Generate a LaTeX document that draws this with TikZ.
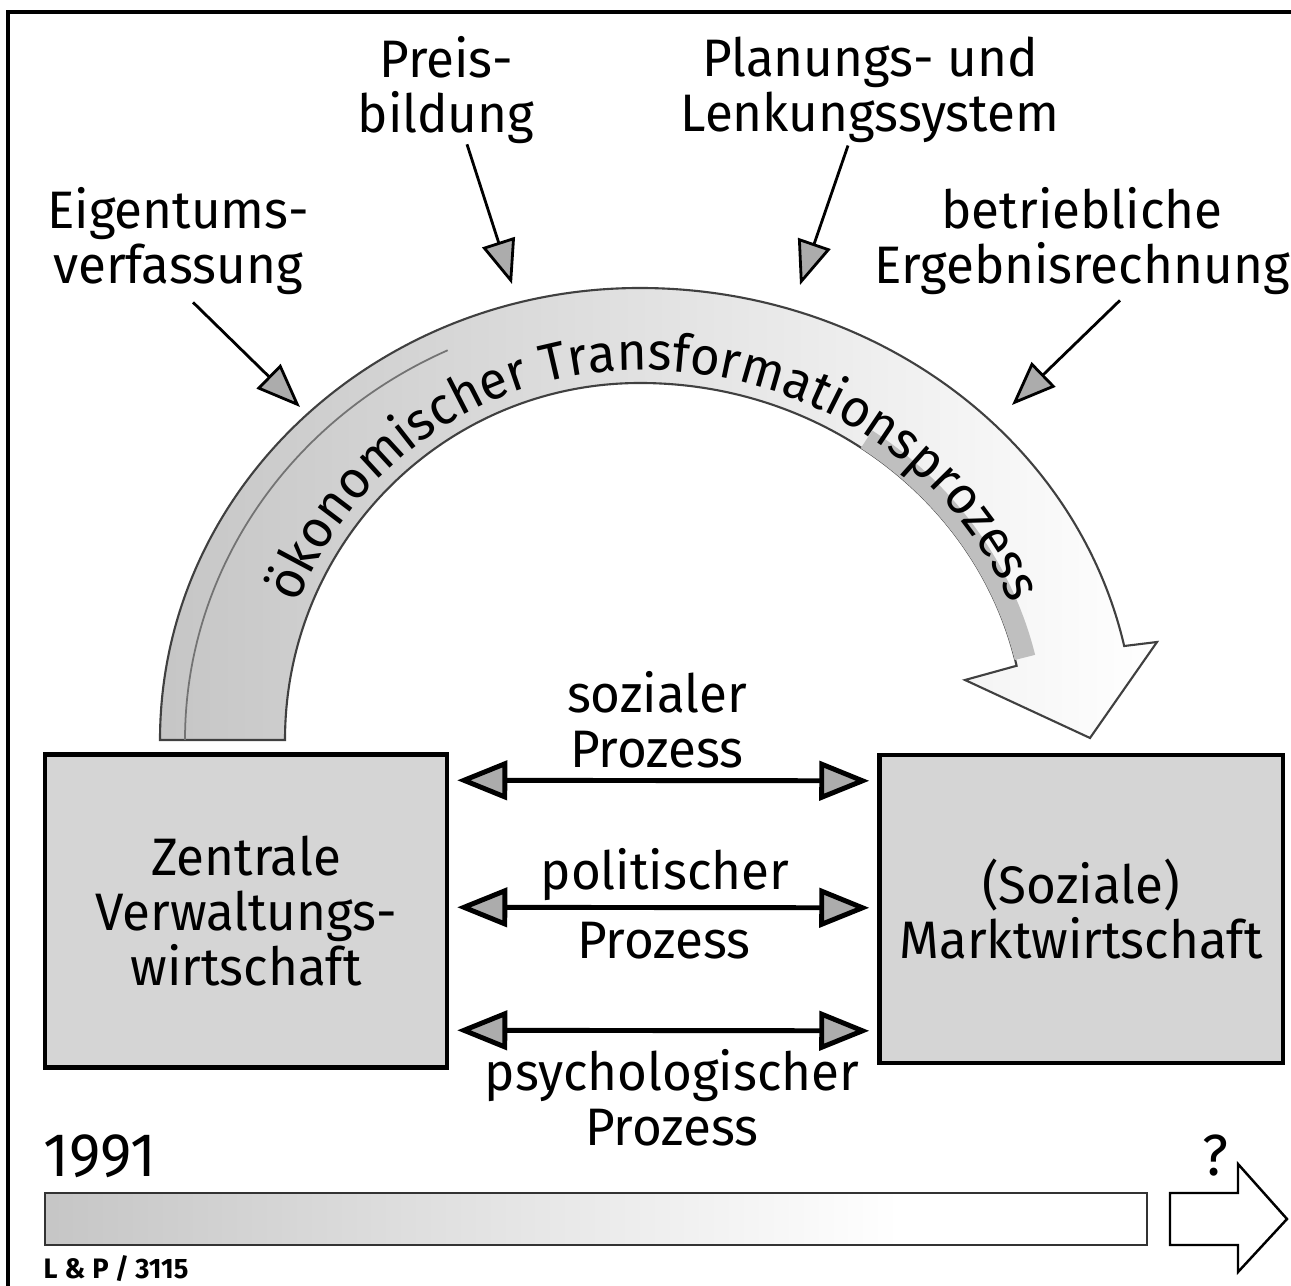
\documentclass[tikz,border=0pt]{standalone}
\usepackage{fontspec}
\setmainfont{Fira Sans}[FakeStretch=0.97]
\usetikzlibrary{positioning,calc,arrows.meta,decorations.text}
\newcommand{\lblfont}{\fontsize{15}{15.6}\selectfont}

\begin{document}
\begin{tikzpicture}[x=0.01cm, y=-0.01cm,
    every node/.style={font=\lblfont, inner sep=0pt},
    ecobox/.style={rectangle, draw=black, fill=gray!33, line width=1.2pt, align=center},
    textlabel/.style={align=center},
    twoway/.style={{Triangle[length=5mm,width=3.9mm,fill=gray!65]}-{Triangle[length=5mm,width=3.9mm,fill=gray!65]}, line width=1.4pt},
    inarrow/.style={-{Triangle[length=4.4mm,width=3.4mm,fill=gray!65]}, line width=0.8pt},
  ]
  \useasboundingbox (0,0) rectangle (1291,1286);

  %Frame
  \draw[line width=1pt] (1291,12) -- (8,12) -- (8,1286);

  %Big arrow
  \coordinate (c) at (640,740);
  \shadedraw[left color=gray!45, right color=white, draw=black!75, line width=0.6pt]
    ($(c)+(180:480 and 452)$) arc[start angle=180, end angle=270, x radius=480, y radius=452]
    arc[start angle=270, end angle=348, x radius=495, y radius=452]
    -- (1157,642) -- (1090,738) -- (965,680)
    -- ($(c)+(348:385 and 357)$) arc[start angle=348, end angle=270, x radius=385, y radius=357]
    arc[start angle=270, end angle=180, x radius=355, y radius=357] -- cycle;
  \draw[black!55, line width=0.5pt] ($(c)+(180:455 and 430)$) arc[start angle=180, end angle=245, x radius=455, y radius=430];
  \draw[gray!50, line width=6pt] ($(c)+(305:395 and 367)$) arc[start angle=305, end angle=347, x radius=395, y radius=367];
  \path[decorate, decoration={text along path, text align=center,
      text={|\lblfont|ökonomischer Transformationsprozess}}]
    ($(c)+(188:368 and 370)$) arc[start angle=188, end angle=270, x radius=368, y radius=370]
    arc[start angle=270, end angle=352, x radius=398, y radius=370];

  %Nodes
  \node[ecobox, minimum width=4.02cm, minimum height=3.13cm] (zvw) at (246,911) {Zentrale\\Verwaltungs-\\wirtschaft};
  \node[ecobox, minimum width=4.03cm, minimum height=3.08cm] (smw) at (1081,909) {(Soziale)\\Marktwirtschaft};

  \node[textlabel] (eig) at (178,241) {Eigentums-\\verfassung};
  \node[textlabel] (prb) at (446,90) {Preis-\\bildung};
  \node[textlabel] (pls) at (870,90) {Planungs- und\\Lenkungssystem};
  \node[textlabel] (ber) at (1082,241) {betriebliche\\Ergebnisrechnung};

  \node[textlabel] (soz) at (657,720) {sozialer\\Prozess};
  \node (pol) at (665,875) {politischer};
  \node (pro) at (664,941) {Prozess};
  \node[textlabel] (psy) at (672,1098) {psychologischer\\Prozess};

  \node[font=\fontsize{17.5}{18}\selectfont] (yr) at (100,1156) {1991};
  \node[font=\fontsize{16.5}{17}\selectfont] (qm) at (1215,1156) {?};
  \node[font=\fontsize{8}{9}\selectfont\bfseries] (src) at (116,1269) {L\hspace{0.25em}\&\hspace{0.25em}P\hspace{0.22em}/\hspace{0.22em}3115};

  %Lines
  \coordinate (e1) at (300,407);
  \coordinate (e2) at (512,284);
  \coordinate (e3) at (800,285);
  \coordinate (e4) at (1012,405);
  \draw[inarrow] ($(eig.south)+(15,7)$) -- (e1);
  \draw[inarrow] ($(prb.south)+(21,0)$) -- (e2);
  \draw[inarrow] ($(pls.south)+(-22,2)$) -- (e3);
  \draw[inarrow] ($(ber.south)+(38,5)$) -- (e4);

  \draw[twoway] ($(zvw.north east)+(8,28)$) -- ($(smw.north west)+(-8,28)$);
  \draw[twoway] ($(zvw.north east)+(8,155)$) -- ($(smw.north west)+(-8,155)$);
  \draw[twoway] ($(zvw.north east)+(8,278)$) -- ($(smw.north west)+(-8,278)$);

  %Time bar
  \shade[left color=gray!45, right color=white] (45,1193) rectangle (900,1245);
  \draw[line width=0.8pt, black!80] (45,1193) rectangle (1147,1245);
  \draw[line width=0.7pt] (1170,1193) -- (1238,1193) -- (1238,1164) -- (1287,1219) -- (1238,1272) -- (1238,1245) -- (1170,1245) -- cycle;

\end{tikzpicture}
\end{document}
